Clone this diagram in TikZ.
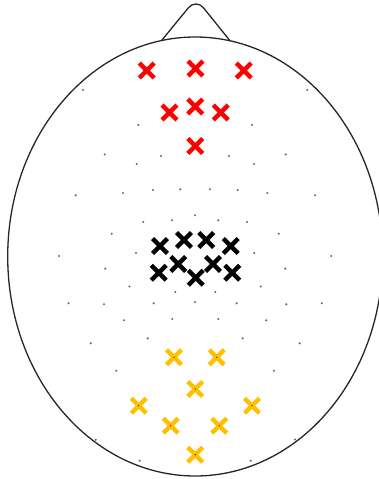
\documentclass[tikz,border=0pt]{standalone}
\usetikzlibrary{shapes.misc}
\definecolor{capyellow}{RGB}{255,192,0}
\tikzset{
  head/.style   = {draw=black!85, line width=1.3pt},
  sensor/.style = {circle, fill=black!60, inner sep=0pt, minimum size=2.3pt},
  xmark/.style  = {cross out, draw=#1, line width=4.4pt, inner sep=0pt, minimum size=10.5pt}
}

\begin{document}
\begin{tikzpicture}[x=1pt, y=-1pt]
  \useasboundingbox (0,0) rectangle (379,479);
  % head and nose
  \draw[head] (195.2,256.5) ellipse [x radius=187.5, y radius=219.5];
  \draw[head, rounded corners=12] (161.5,40.6) -- (196,-1.5) -- (230,40.8);

  % electrode positions
  \foreach \x/\y [count=\i] in {83/90, 307.3/90, 138.3/125, 252/125,
      104.7/154.5, 161/156, 229/156, 285.7/154.5, 136.7/164, 254/164,
      75.7/195.3, 123/193, 153/190, 180.3/189.3, 210/189.3, 237.7/190, 267.3/193, 315/195.3,
      195/215.3, 143.3/222, 172/220.3, 218.3/220.3, 247/222,
      111.7/233.7, 278.7/233.7, 59/256, 136/253, 254.3/253, 331.3/256,
      105.3/268.7, 285.3/268.7, 129.5/286.5, 260.7/286.5, 175.3/292, 215.3/292,
      68.5/303.2, 104/304.3, 153.7/303.3, 195/302, 236.7/303.3, 286.3/304.3, 321.7/303.2,
      124/320.3, 172.3/319, 218.3/319, 266.2/320.3,
      90.7/343.3, 147.7/338.3, 242.7/338.3, 299.7/343.3,
      116.3/370.7, 274/370.7, 95.7/439.7, 295/439.5, 139.7/460.7, 250.7/460.7}
    \node[sensor] (e\i) at (\x,\y) {};

  % frontal
  \foreach \x/\y [count=\i] in {146.7/70.5, 195.5/68.5, 243.7/70.5,
      169.5/112.5, 195.3/106.5, 220.7/112.5, 195.3/146}
  {
    \node[xmark=red] (f\i) at (\x,\y) {};
    \node[sensor, fill=black!80, minimum size=1.5pt] (fc\i) at (f\i.center) {};
  }

  % central
  \foreach \x/\y [count=\i] in {160/246, 184/240, 206.3/240, 230.7/246,
      158.7/272.7, 178.3/264, 195.7/277.7, 213/264, 232.3/272.7}
  {
    \node[xmark=black] (c\i) at (\x,\y) {};
  }

  % occipital
  \foreach \x/\y [count=\i] in {174/357.3, 216.7/357.3, 195.3/389,
      138.7/405.7, 252/405.7, 170.7/425.7, 219.3/425.7, 195.3/454.7}
  {
    \node[xmark=capyellow] (o\i) at (\x,\y) {};
    \node[sensor, fill=black!80, minimum size=1.5pt] (oc\i) at (o\i.center) {};
  }
\end{tikzpicture}
\end{document}
